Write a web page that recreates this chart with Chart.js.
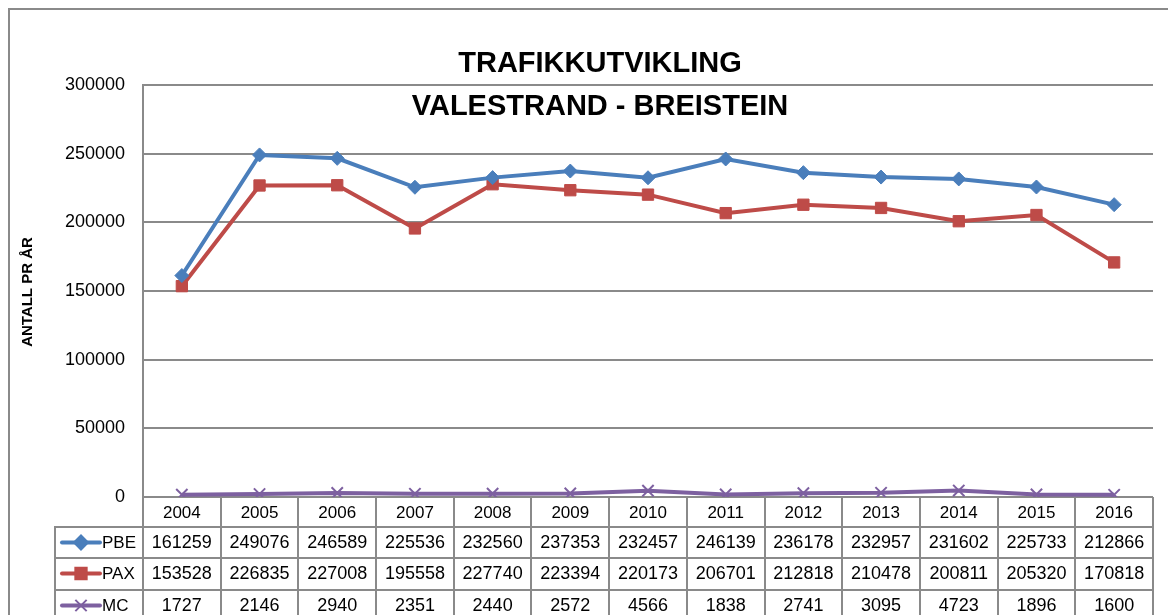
<!DOCTYPE html>
<html lang="no">
<head>
    <meta charset="UTF-8">
    <title>Trafikkutvikling Valestrand - Breistein</title>
    <style>
        body {
            margin: 0;
            background: #ffffff;
        }
        .wrap {
            width: 1168px;
            height: 615px;
        }
    </style>
</head>
<body>
    <div class="wrap">
        <canvas id="trafikk" width="1168" height="615"></canvas>
    </div>

    <script src="https://cdn.jsdelivr.net/npm/chart.js"></script>
    <script>
        // Data
        const years = ['2004', '2005', '2006', '2007', '2008', '2009', '2010', '2011', '2012', '2013', '2014', '2015', '2016'];
        const pbe = [161259, 249076, 246589, 225536, 232560, 237353, 232457, 246139, 236178, 232957, 231602, 225733, 212866];
        const pax = [153528, 226835, 227008, 195558, 227740, 223394, 220173, 206701, 212818, 210478, 200811, 205320, 170818];
        const mc = [1727, 2146, 2940, 2351, 2440, 2572, 4566, 1838, 2741, 3095, 4723, 1896, 1600];
        const titleLines = ['TRAFIKKUTVIKLING', 'VALESTRAND - BREISTEIN'];
        const yTitle = 'ANTALL PR ÅR';

        const gridGray = '#8a8a8a';
        const font = '"Liberation Sans", Arial, sans-serif';

        // draw a legend marker in the dataset colour
        function legendMarker(c, ds, x, y) {
            c.save();
            c.fillStyle = ds.borderColor;
            c.strokeStyle = ds.borderColor;
            c.lineWidth = 2;
            Chart.helpers.drawPoint(c, {
                pointStyle: ds.pointStyle,
                radius: ds.pointRadius,
                borderWidth: 2,
                rotation: 0
            }, x, y);
            c.restore();
        }

        // title, y title, border and the data table under the plot
        const tablePlugin = {
            id: 'tablePlugin',
            afterDraw(chart) {
                const c = chart.ctx;
                const area = chart.chartArea;
                const xs = chart.scales.x;

                c.save();
                // outer border (cut off at the right and bottom)
                c.strokeStyle = gridGray;
                c.lineWidth = 2;
                c.beginPath();
                c.moveTo(9, 620);
                c.lineTo(9, 9);
                c.lineTo(1170, 9);
                c.stroke();

                // title
                c.fillStyle = '#000';
                c.textAlign = 'center';
                c.textBaseline = 'middle';
                c.font = 'bold 29px ' + font;
                c.fillText(titleLines[0], 600, 64);
                c.fillText(titleLines[1], 600, 107);

                // y axis title
                c.save();
                c.translate(28, 292);
                c.rotate(-Math.PI / 2);
                c.font = 'bold 15px ' + font;
                c.fillText(yTitle, 0, 0);
                c.restore();

                // table geometry
                const headTop = area.bottom;
                const rowTops = [527, 558, 590];
                const rowH = 31;
                const legLeft = 55;
                const bounds = [area.left];
                for (let i = 1; i < years.length; i++) {
                    bounds.push(Math.round((xs.getPixelForValue(i - 1) + xs.getPixelForValue(i)) / 2));
                }
                bounds.push(area.right);

                c.strokeStyle = gridGray;
                c.lineWidth = 2;
                c.beginPath();
                bounds.forEach(function (bx) {
                    c.moveTo(bx, headTop);
                    c.lineTo(bx, 615);
                });
                c.moveTo(legLeft, rowTops[0]);
                c.lineTo(legLeft, 615);
                rowTops.forEach(function (ry) {
                    c.moveTo(legLeft - 1, ry);
                    c.lineTo(area.right + 1, ry);
                });
                c.stroke();

                // header years
                c.fillStyle = '#000';
                c.font = '17px ' + font;
                years.forEach(function (y, i) {
                    c.fillText(y, xs.getPixelForValue(i), (headTop + rowTops[0]) / 2 + 1);
                });

                // series rows
                chart.data.datasets.forEach(function (ds, r) {
                    const cy = rowTops[r] + rowH / 2 + 1;
                    c.font = '18px ' + font;
                    c.textAlign = 'center';
                    c.fillStyle = '#000';
                    ds.data.forEach(function (v, i) {
                        c.fillText(String(v), xs.getPixelForValue(i), cy);
                    });
                    // legend key
                    c.strokeStyle = ds.borderColor;
                    c.lineWidth = 4;
                    c.lineCap = 'round';
                    c.beginPath();
                    c.moveTo(62, cy - 1);
                    c.lineTo(100, cy - 1);
                    c.stroke();
                    c.lineCap = 'butt';
                    legendMarker(c, ds, 81, cy - 1);
                    c.fillStyle = '#000';
                    c.textAlign = 'left';
                    c.font = '17px ' + font;
                    c.fillText(ds.label, 102, cy);
                });
                c.restore();
            }
        };

        const ctx = document.getElementById('trafikk').getContext('2d');
        new Chart(ctx, {
            type: 'line',
            data: {
                labels: years,
                datasets: [{
                    label: 'PBE',
                    data: pbe,
                    borderColor: '#4A7EBB',
                    backgroundColor: '#4A7EBB',
                    borderWidth: 4,
                    pointStyle: 'rectRot',
                    pointRadius: 7,
                    pointBorderWidth: 1,
                    tension: 0
                }, {
                    label: 'PAX',
                    data: pax,
                    borderColor: '#BE4B48',
                    backgroundColor: '#BE4B48',
                    borderWidth: 4,
                    pointStyle: 'rect',
                    pointRadius: 8,
                    pointBorderWidth: 1,
                    tension: 0
                }, {
                    label: 'MC',
                    data: mc,
                    borderColor: '#7D60A0',
                    backgroundColor: '#7D60A0',
                    borderWidth: 4,
                    pointStyle: 'crossRot',
                    pointRadius: 8,
                    pointBorderWidth: 2,
                    tension: 0
                }]
            },
            options: {
                responsive: false,
                animation: false,
                layout: {
                    padding: { left: 0, right: 15, top: 85, bottom: 118 }
                },
                plugins: {
                    legend: { display: false },
                    title: { display: false },
                    tooltip: { enabled: false }
                },
                scales: {
                    x: {
                        display: false,
                        offset: true
                    },
                    y: {
                        min: 0,
                        max: 300000,
                        afterFit(scale) {
                            scale.width = 143;
                        },
                        ticks: {
                            stepSize: 50000,
                            padding: 18,
                            color: '#000',
                            font: { family: font, size: 18 },
                            callback: function (v) { return String(v); }
                        },
                        grid: {
                            color: gridGray,
                            lineWidth: 2,
                            drawTicks: false
                        },
                        border: {
                            color: gridGray,
                            width: 2
                        }
                    }
                }
            },
            plugins: [tablePlugin]
        });
    </script>
</body>
</html>
